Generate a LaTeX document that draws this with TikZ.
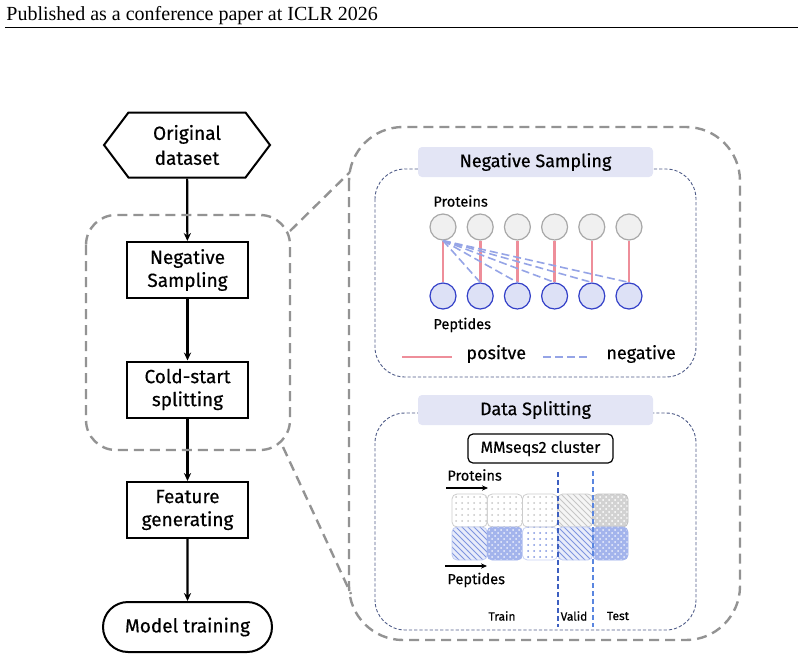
\documentclass[tikz,border=0pt]{standalone}
\usepackage{fontspec}
\setmainfont{Fira Sans}[FakeBold=0.5]
\newfontfamily\headfont{Liberation Serif}
\usetikzlibrary{positioning,shapes.symbols,shapes.misc,patterns,arrows.meta}

\definecolor{tagfill}{HTML}{E3E5F5}
\definecolor{posred}{HTML}{EE8E9A}
\definecolor{negblue}{HTML}{95A4E6}
\definecolor{pepfill}{HTML}{DDE1F6}
\definecolor{pepline}{HTML}{3340C8}
\definecolor{profill}{HTML}{F0F0F0}
\definecolor{proline}{HTML}{A8A8A8}
\definecolor{panelline}{HTML}{4F5C88}
\definecolor{blkblue}{HTML}{A3B4EC}
\definecolor{blkhatch}{HTML}{7F95E0}
\definecolor{splitdark}{HTML}{3D5FC0}
\definecolor{splitblue}{HTML}{5A86E0}

\tikzset{
  flowbox/.style={draw, line width=1pt, minimum width=60.5pt, minimum height=28pt,
    align=center, inner sep=1pt, font=\fontsize{9.5}{11.5}\selectfont},
  hexa/.style={flowbox, shape=signal, signal to=west and east, signal pointer angle=106,
    minimum width=83pt, minimum height=32.5pt, font=\fontsize{9.5}{12.5}\selectfont},
  stadium/.style={flowbox, shape=rounded rectangle, minimum width=86.5pt, minimum height=25pt},
  flowarrow/.style={line width=1.1pt, -{Stealth[length=4pt,width=3.6pt]}},
  zoomline/.style={draw=gray!85, line width=1.2pt, dash pattern=on 5pt off 3pt},
  panel/.style={draw=panelline, line width=0.45pt, dash pattern=on 1.6pt off 1pt, rounded corners=15pt},
  tag/.style={fill=tagfill, rounded corners=2pt, minimum width=117.5pt, minimum height=15pt,
    inner sep=0pt, font=\fontsize{9}{10}\selectfont},
  prot/.style={circle, draw=proline, fill=profill, line width=0.6pt, minimum size=13pt, inner sep=0pt},
  pept/.style={circle, draw=pepline, fill=pepfill, line width=0.6pt, minimum size=13pt, inner sep=0pt},
  posline/.style={draw=posred, line width=1.3pt},
  negline/.style={draw=negblue, line width=0.8pt, dash pattern=on 4pt off 2pt},
  smalltxt/.style={font=\fontsize{7.3}{8}\selectfont, inner sep=0pt},
  legtxt/.style={font=\fontsize{9}{10}\selectfont, inner sep=0pt},
  tinytxt/.style={font=\fontsize{6}{7}\selectfont, inner sep=0pt},
  clusterbox/.style={draw, rounded corners=2.5pt, line width=0.6pt, minimum width=72.5pt,
    minimum height=14.5pt, inner sep=0pt, font=\fontsize{8}{9}\selectfont},
  blk/.style={rounded corners=2.5pt, line width=0.4pt, minimum width=17.6pt, minimum height=16.5pt, inner sep=0pt},
  protplain/.style={blk, draw=gray!40, pattern=dots, pattern color=gray!45},
  protvalid/.style={blk, draw=gray!40, preaction={fill=gray!8}, pattern=north west lines, pattern color=gray!45},
  prottest/.style={blk, draw=gray!50, preaction={fill=gray!35}, pattern=crosshatch dots, pattern color=white},
  peplines/.style={blk, draw=blkblue!70, preaction={fill=blkblue!25}, pattern=north west lines, pattern color=blkhatch},
  pepdense/.style={blk, draw=blkblue, preaction={fill=blkblue}, pattern=crosshatch dots, pattern color=white!80!blkblue},
  pepdots/.style={blk, draw=blkblue!60, pattern=dots, pattern color=blkhatch},
  splitline/.style={line width=0.6pt, dash pattern=on 2.5pt off 1.5pt},
  smallarrow/.style={line width=0.8pt, -{Stealth[length=3pt,width=2.6pt]}}
}

\begin{document}
\begin{tikzpicture}[x=0.5pt, y=-0.5pt]
\useasboundingbox (0,0) rectangle (804,659);

% 页眉
\node[anchor=base west, inner sep=0pt, font=\headfont\fontsize{10}{11}\selectfont] (hdr) at (6,20) {Published as a conference paper at ICLR 2026};
\coordinate (rulea) at (5,27);
\coordinate (ruleb) at (798,27);
\draw[line width=0.5pt] (rulea) -- (ruleb);

% 左侧流程
\node[hexa] (orig) at (187,145) {Original\\dataset};
\node[flowbox] (negs) at (187.5,270) {Negative\\Sampling};
\node[flowbox] (cold) at (187.5,389.5) {Cold-start\\splitting};
\node[flowbox] (feat) at (187.5,510) {Feature\\generating};
\node[stadium] (model) at (187.5,627) {Model training};
\draw[flowarrow] (orig) -- (negs);
\draw[flowarrow] (negs) -- (cold);
\draw[flowarrow] (cold) -- (feat);
\draw[flowarrow] (feat) -- (model);

% 放大框
\draw[zoomline, rounded corners=15pt] (86,215) rectangle (290,450);
\draw[zoomline, rounded corners=27pt] (349,127) rectangle (740,640);
\coordinate (lzt) at (290,231);
\coordinate (rzt) at (350,172);
\coordinate (lzb) at (283,447);
\coordinate (rzb) at (351,594);
\draw[zoomline] (lzt) -- (rzt);
\draw[zoomline] (lzb) -- (rzb);

% 负采样面板
\draw[panel] (375,169) rectangle (696,377);
\node[tag] (nstag) at (535.5,162) {Negative Sampling};
\node[smalltxt, anchor=west] (protlab) at (433,201) {Proteins};
\foreach \i in {1,...,6} {
  \pgfmathsetmacro{\xx}{443+37.2*(\i-1)}
  \node[prot] (p\i) at (\xx,227) {};
  \node[pept] (q\i) at (\xx,296) {};
  \draw[posline] (p\i) -- (q\i);
}
\foreach \i in {2,...,6}
  \draw[negline] (p1.south) -- (q\i.north);
\node[smalltxt, anchor=west] (peplab) at (433,325) {Peptides};
\coordinate (posa) at (402,357);
\coordinate (posb) at (452,357);
\draw[posline] (posa) -- (posb);
\node[legtxt, anchor=west] (postxt) at (466,354) {positve};
\coordinate (nega) at (543,357);
\coordinate (negb) at (590,357);
\draw[negline] (nega) -- (negb);
\node[legtxt, anchor=west] (negtxt) at (606,354) {negative};

% 数据划分面板
\draw[panel] (375,413) rectangle (696,630);
\node[tag] (dstag) at (535.5,410) {Data Splitting};
\node[clusterbox] (mms) at (540.5,448.5) {MMseqs2 cluster};
\node[smalltxt, anchor=west] (protlab2) at (447,475) {Proteins};
\coordinate (pra) at (446,488);
\coordinate (prb) at (488,488);
\draw[smallarrow] (pra) -- (prb);

\node[protplain] (b11) at (469.6,510.5) {};
\node[protplain] (b12) at (504.8,510.5) {};
\node[protplain] (b13) at (540.0,510.5) {};
\node[protvalid] (b14) at (575.2,510.5) {};
\node[prottest] (b15) at (610.4,510.5) {};
\node[peplines] (b21) at (469.6,543.5) {};
\node[pepdense] (b22) at (504.8,543.5) {};
\node[pepdots] (b23) at (540.0,543.5) {};
\node[peplines] (b24) at (575.2,543.5) {};
\node[pepdense] (b25) at (610.4,543.5) {};

\coordinate (pea) at (445,566);
\coordinate (peb) at (487,566);
\draw[smallarrow] (pea) -- (peb);
\node[smalltxt, anchor=west] (peplab2) at (447,580) {Peptides};

\coordinate (va) at (558,472);
\coordinate (vb) at (558,627);
\coordinate (wa) at (593,471);
\coordinate (wb) at (593,627);
\draw[splitline, splitdark] (va) -- (vb);
\draw[splitline, splitblue] (wa) -- (wb);
\node[tinytxt] (train) at (502,616) {Train};
\node[tinytxt] (valid) at (574,616) {Valid};
\node[tinytxt] (test) at (618,616) {Test};
\end{tikzpicture}
\end{document}
